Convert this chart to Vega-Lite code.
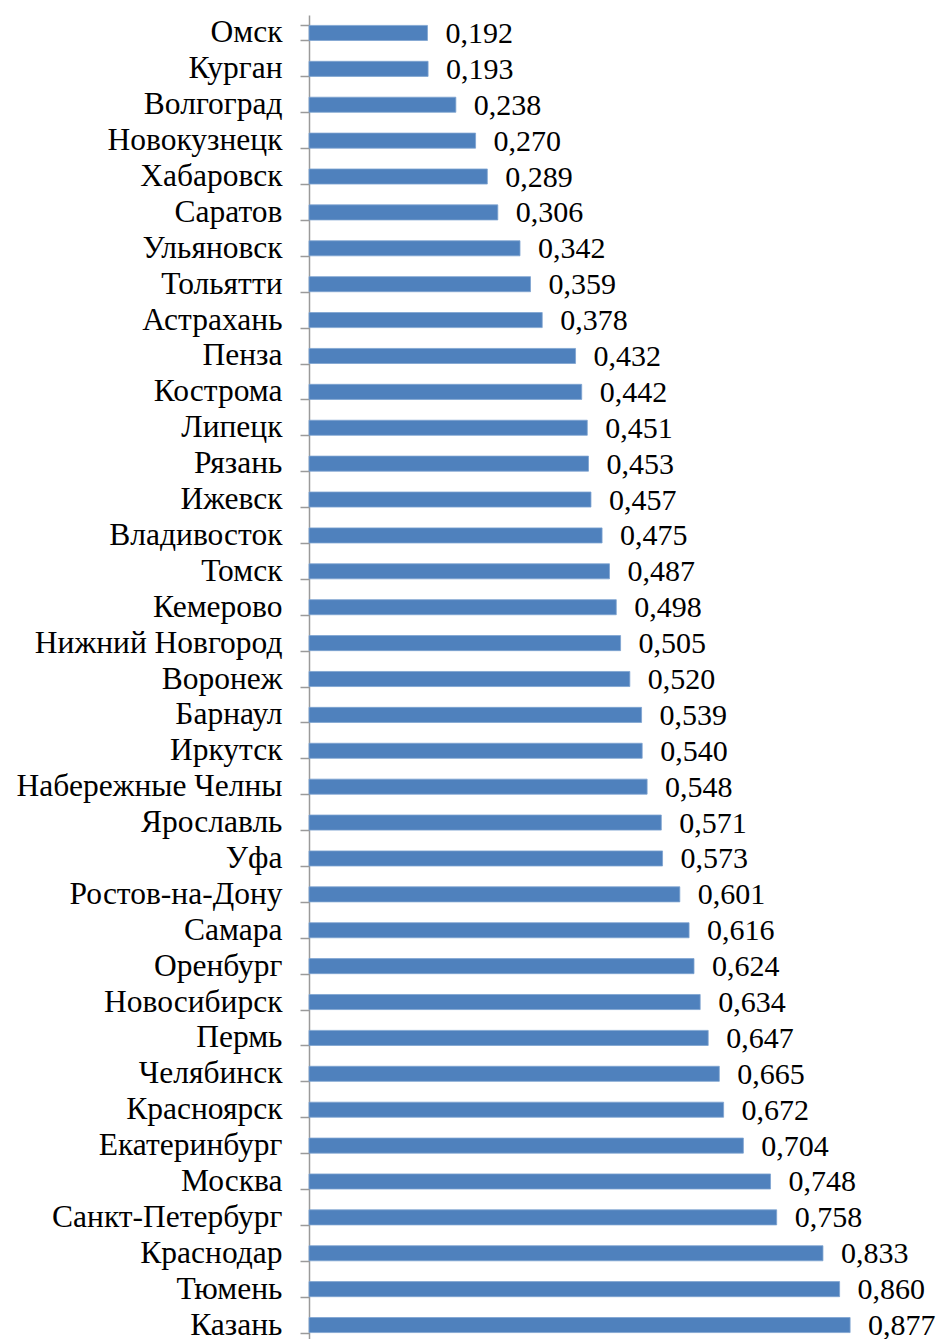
{
  "$schema": "https://vega.github.io/schema/vega-lite/v6.json",
  "autosize": {"type": "none"},
  "padding": {"left": 309, "top": 15, "right": 11, "bottom": 0},
  "width": 617,
  "height": 1328,
  "background": "white",
  "config": {
    "view": {"stroke": null},
    "locale": {"number": {"decimal": ",", "thousands": " ", "grouping": [3], "currency": ["", " ₽"]}}
  },
  "data": {
    "values": [
      {"city": "Омск", "v": 0.192},
      {"city": "Курган", "v": 0.193},
      {"city": "Волгоград", "v": 0.238},
      {"city": "Новокузнецк", "v": 0.270},
      {"city": "Хабаровск", "v": 0.289},
      {"city": "Саратов", "v": 0.306},
      {"city": "Ульяновск", "v": 0.342},
      {"city": "Тольятти", "v": 0.359},
      {"city": "Астрахань", "v": 0.378},
      {"city": "Пенза", "v": 0.432},
      {"city": "Кострома", "v": 0.442},
      {"city": "Липецк", "v": 0.451},
      {"city": "Рязань", "v": 0.453},
      {"city": "Ижевск", "v": 0.457},
      {"city": "Владивосток", "v": 0.475},
      {"city": "Томск", "v": 0.487},
      {"city": "Кемерово", "v": 0.498},
      {"city": "Нижний Новгород", "v": 0.505},
      {"city": "Воронеж", "v": 0.520},
      {"city": "Барнаул", "v": 0.539},
      {"city": "Иркутск", "v": 0.540},
      {"city": "Набережные Челны", "v": 0.548},
      {"city": "Ярославль", "v": 0.571},
      {"city": "Уфа", "v": 0.573},
      {"city": "Ростов-на-Дону", "v": 0.601},
      {"city": "Самара", "v": 0.616},
      {"city": "Оренбург", "v": 0.624},
      {"city": "Новосибирск", "v": 0.634},
      {"city": "Пермь", "v": 0.647},
      {"city": "Челябинск", "v": 0.665},
      {"city": "Красноярск", "v": 0.672},
      {"city": "Екатеринбург", "v": 0.704},
      {"city": "Москва", "v": 0.748},
      {"city": "Санкт-Петербург", "v": 0.758},
      {"city": "Краснодар", "v": 0.833},
      {"city": "Тюмень", "v": 0.860},
      {"city": "Казань", "v": 0.877}
    ]
  },
  "encoding": {
    "y": {
      "field": "city", "type": "nominal", "sort": null,
      "scale": {"paddingInner": 0.58, "paddingOuter": 0.29},
      "axis": {
        "title": null, "tickBand": "extent", "domainColor": "#9a9a9a", "domainWidth": 1.5,
        "tickColor": "#9a9a9a", "tickWidth": 1.5, "tickSize": 9, "labelPadding": 18,
        "labelFont": "Liberation Serif", "labelFontSize": 31.5, "labelColor": "#000000",
        "labelLimit": 400, "grid": false
      }
    },
    "x": {
      "field": "v", "type": "quantitative",
      "scale": {"domain": [0, 1], "nice": false},
      "axis": null
    }
  },
  "layer": [
    {"mark": {"type": "bar", "color": "#4F81BD", "stroke": "#7ea3d1", "strokeWidth": 0.8}},
    {
      "mark": {"type": "text", "align": "left", "baseline": "middle", "dx": 18, "dy": 1,
               "font": "Liberation Serif", "fontSize": 30, "color": "#000000"},
      "encoding": {"text": {"field": "v", "type": "quantitative", "format": ".3f"}}
    }
  ]
}
